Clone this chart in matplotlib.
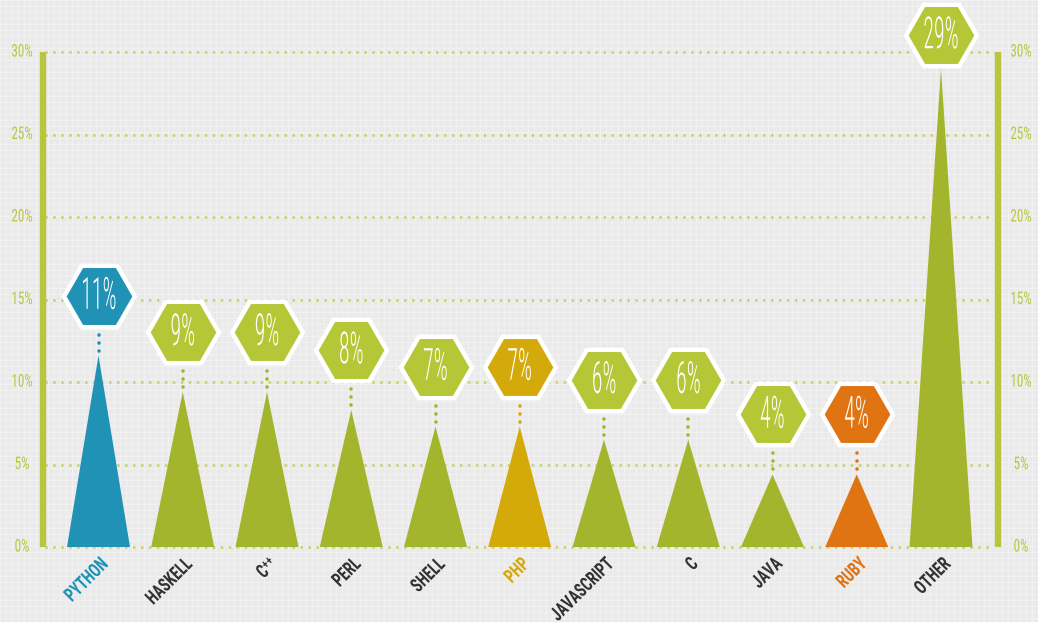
import numpy as np
import matplotlib
matplotlib.use("Agg")
import matplotlib.pyplot as plt
from matplotlib import font_manager as fm
from matplotlib.patheffects import AbstractPathEffect
from matplotlib.transforms import Affine2D

# ---- data ----
languages = ["PYTHON", "HASKELL", "C\u207a\u207a", "PERL", "SHELL", "PHP",
             "JAVASCRIPT", "C", "JAVA", "RUBY", "OTHER"]
shares = [11.6, 9.4, 9.4, 8.3, 7.3, 7.3, 6.5, 6.5, 4.4, 4.4, 29.0]
share_labels = ["11%", "9%", "9%", "8%", "7%", "7%", "6%", "6%", "4%", "4%", "29%"]
y_ticks = [0, 5, 10, 15, 20, 25, 30]
y_tick_labels = ["0%", "5%", "10%", "15%", "20%", "25%", "30%"]

# ---- styles ----
GREEN_TRI = "#a3b52c"
GREEN_HEX = "#b5c736"
BLUE = "#1f92b5"
GOLD = "#d4aa0b"
ORANGE = "#e07312"
special = {"PYTHON": BLUE, "PHP": GOLD, "RUBY": ORANGE}
AXIS_GREEN = "#b8c63f"
GRID_GREEN = "#c8d671"
LABEL_DARK = "#333333"


def pick(cands):
    for c in cands:
        try:
            fm.findfont(fm.FontProperties(family=c), fallback_to_default=False)
            return c
        except Exception:
            pass
    return "DejaVu Sans"


BASE = pick(["Roboto Condensed", "Roboto", "DejaVu Sans"])
FONT = [BASE, "DejaVu Sans"]
WIDTH_FACTOR = 0.85 if "Condensed" in BASE else (1.0 if BASE == "Roboto" else 1.1)


class Squeeze(AbstractPathEffect):
    """Horizontally condense glyphs (the font used is wider than the original)."""

    def __init__(self, sx, anchor="center"):
        super().__init__()
        self.sx = sx / WIDTH_FACTOR
        self.anchor = anchor

    def draw_path(self, renderer, gc, tpath, affine, rgbFace=None):
        ext = tpath.get_extents()
        if self.anchor == "left":
            a = ext.x0
        elif self.anchor == "right":
            a = ext.x1
        else:
            a = 0.5 * (ext.x0 + ext.x1)
        t = Affine2D().translate(-a, 0).scale(self.sx, 1).translate(a, 0) + affine
        renderer.draw_path(gc, tpath, t, rgbFace)


W, H = 1038, 622
fig = plt.figure(figsize=(W / 100, H / 100), dpi=100)

# background pattern
bg = np.full((H, W), 0.915)
bg[::6, :] = 0.945
bg[:, ::6] = 0.945
bax = fig.add_axes([0, 0, 1, 1], zorder=-5)
bax.imshow(bg, cmap="gray", vmin=0, vmax=1, aspect="auto",
           interpolation="nearest")
bax.axis("off")

ax = fig.add_axes([0, 0, 1, 1], zorder=1)
ax.patch.set_alpha(0)
px_x = 84.25           # pixels per category
px_y = 16.5            # pixels per percent
x0_px, y0_px = 98.5, 547
ax.set_xlim(-x0_px / px_x, (W - x0_px) / px_x)
ax.set_ylim(-(H - y0_px) / px_y, y0_px / px_y)
ax.axis("off")


def dx(p):
    return p / px_x


def dy(p):
    return p / px_y


# gridlines
gx0, gx1 = dx(46 - x0_px), dx(994 - x0_px)
for t in y_ticks:
    ax.plot([gx0, gx1], [t, t], color=GRID_GREEN, lw=2.2,
            ls=(0, (0.01, 2.6)), dash_capstyle="round", zorder=1)

# axis bars
lx, rx = dx(43 - x0_px), dx(997.5 - x0_px)
for bx in (lx, rx):
    ax.plot([bx, bx], [0, 30], color=AXIS_GREEN, lw=4.6,
            solid_capstyle="butt", zorder=2)
for t, lab in zip(y_ticks, y_tick_labels):
    ax.text(dx(22 - x0_px), t, lab, ha="center", va="center", color=AXIS_GREEN,
            fontsize=12.5, family=FONT, path_effects=[Squeeze(0.64, "center")])
    ax.text(dx(1021 - x0_px), t, lab, ha="center", va="center", color=AXIS_GREEN,
            fontsize=12.5, family=FONT, path_effects=[Squeeze(0.64, "center")])

hw = dx(31.5)
cap = dy(y0_px - 35)
for i, (name, v, lab) in enumerate(zip(languages, shares, share_labels)):
    tri_c = special.get(name, GREEN_TRI)
    hex_c = special.get(name, GREEN_HEX)
    ax.fill([i - hw, i, i + hw], [0, v, 0], color=tri_c, lw=0, zorder=3)
    hy = min(v + dy(60), cap)
    bottom = hy - dy(34)
    if bottom > v + dy(4):
        ax.plot([i, i], [v + dy(5), bottom], color=tri_c, lw=2.6,
                ls=(0, (0.01, 2.2)), dash_capstyle="round", zorder=3)
    ax.plot(i, hy, marker="H", markersize=51, mfc=hex_c, mec="white",
            mew=3.2, zorder=4)
    ax.text(i, hy - dy(1), lab, ha="center", va="center", color="white",
            fontsize=32, fontweight="light", family=FONT, zorder=5,
            path_effects=[Squeeze(0.42, "center")])
    lab_c = special.get(name, LABEL_DARK)
    ax.text(i + dx(1), dy(y0_px - 555), name, rotation=45,
            rotation_mode="anchor", ha="right", va="top", color=lab_c,
            fontsize=14, fontweight="bold", family=FONT, zorder=5,
            path_effects=[Squeeze(0.66, "right")])

fig.savefig("out.png", dpi=100)
